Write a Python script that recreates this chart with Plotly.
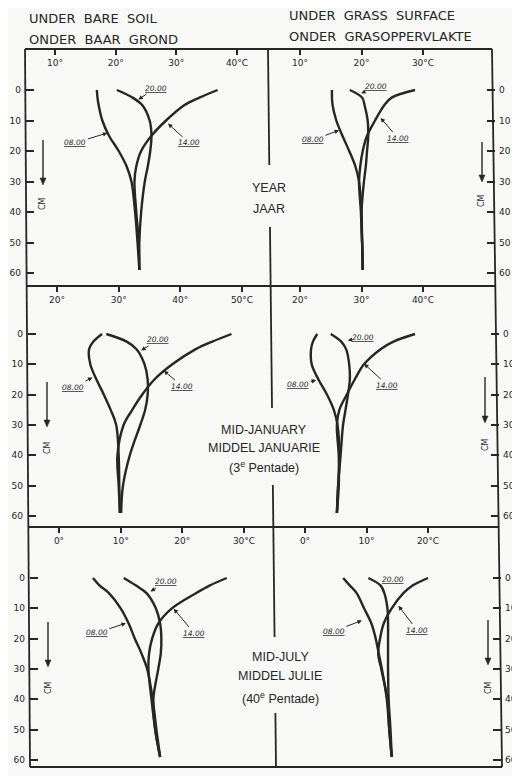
import plotly.graph_objects as go

# page body has an 8px margin, so the figure is 8px smaller than the window
OFF = 8
W, H = 520 - OFF, 776 - OFF

# depth below surface (cm) at which temperatures were read
DEPTH = [0, 2.5, 5, 10, 15, 20, 25, 30, 40, 50, 59]
DEPTH_TICKS = [0, 10, 20, 30, 40, 50, 60]
TIMES = ["08.00", "14.00", "20.00"]

# soil temperature (deg C) - year, bare soil
YEAR_BARE_08 = [16.9, 17.0, 17.2, 17.8, 18.9, 20.5, 21.8, 22.6, 23.2, 23.6, 23.9]
YEAR_BARE_14 = [36.8, 33.8, 31.3, 28.3, 25.9, 24.2, 23.4, 23.1, 23.4, 23.8, 23.9]
YEAR_BARE_20 = [20.2, 22.8, 24.4, 25.6, 25.9, 25.7, 25.3, 24.8, 24.2, 23.9, 23.9]
# year, grass surface
YEAR_GRASS_08 = [15.2, 15.2, 15.3, 15.9, 16.9, 18.0, 19.0, 19.6, 20.0, 20.1, 20.2]
YEAR_GRASS_14 = [28.7, 24.9, 23.7, 22.2, 20.9, 20.2, 19.8, 19.6, 19.9, 20.1, 20.2]
YEAR_GRASS_20 = [18.1, 20.1, 20.5, 21.0, 21.1, 20.9, 20.7, 20.4, 20.0, 20.1, 20.2]
# mid-January, bare soil
JAN_BARE_08 = [27.3, 25.9, 25.2, 25.4, 26.4, 27.6, 28.7, 29.6, 30.0, 30.1, 30.2]
JAN_BARE_14 = [48.3, 45.2, 42.5, 38.7, 35.8, 33.8, 32.2, 30.8, 29.8, 30.0, 30.2]
JAN_BARE_20 = [28.0, 31.3, 32.9, 34.2, 34.7, 34.7, 34.3, 33.5, 31.8, 30.7, 30.4]
# mid-January, grass surface
JAN_GRASS_08 = [22.8, 22.1, 21.8, 21.9, 23.0, 24.4, 25.5, 26.1, 26.4, 26.2, 26.0]
JAN_GRASS_14 = [38.7, 35.2, 33.1, 30.4, 28.9, 27.6, 26.4, 26.0, 26.3, 26.3, 26.0]
JAN_GRASS_20 = [25.0, 26.7, 27.5, 28.0, 28.1, 27.8, 27.4, 27.0, 26.6, 26.2, 26.0]
# mid-July, bare soil
JUL_BARE_08 = [5.5, 6.6, 8.1, 10.0, 11.3, 12.3, 13.4, 14.3, 15.2, 15.8, 16.4]
JUL_BARE_14 = [27.2, 24.4, 22.2, 18.3, 16.1, 15.1, 14.6, 14.5, 15.0, 15.6, 16.4]
JUL_BARE_20 = [10.5, 12.5, 14.2, 15.7, 16.4, 16.6, 16.5, 16.1, 15.3, 15.6, 16.4]
# mid-July, grass surface
JUL_GRASS_08 = [6.2, 7.3, 8.4, 9.6, 10.8, 11.5, 12.0, 12.5, 13.3, 13.7, 14.1]
JUL_GRASS_14 = [20.0, 17.5, 16.0, 14.1, 12.8, 12.2, 11.9, 12.4, 13.4, 13.7, 14.1]
JUL_GRASS_20 = [10.3, 12.3, 12.9, 13.4, 13.5, 13.5, 13.5, 13.5, 13.6, 13.9, 14.1]

# temperature tick labels
YEAR_BARE_TICKS = [10, 20, 30, 40]
YEAR_BARE_TEXT = ["10°", "20°", "30°", "40°C"]
YEAR_GRASS_TICKS = [10, 20, 30]
YEAR_GRASS_TEXT = ["10°", "20°", "30°C"]
JAN_BARE_TICKS = [20, 30, 40, 50]
JAN_BARE_TEXT = ["20°", "30°", "40°", "50°C"]
JAN_GRASS_TICKS = [20, 30, 40]
JAN_GRASS_TEXT = ["20°", "30°", "40°C"]
JUL_BARE_TICKS = [0, 10, 20, 30]
JUL_BARE_TEXT = ["0°", "10°", "20°", "30°C"]
JUL_GRASS_TICKS = [0, 10, 20]
JUL_GRASS_TEXT = ["0°", "10°", "20°C"]

HEADERS = ["UNDER  BARE  SOIL", "ONDER  BAAR  GROND",
           "UNDER  GRASS  SURFACE", "ONDER  GRASOPPERVLAKTE"]
ROW_TITLES = [["YEAR", "JAAR"],
              ["MID-JANUARY", "MIDDEL JANUARIE", "(3<sup>e</sup> Pentade)"],
              ["MID-JULY", "MIDDEL JULIE", "(40<sup>e</sup> Pentade)"]]

INK = "#262626"
BG = "#f8f8f6"

# ---- layout in window pixels (scan is slightly skewed) ----
# rows: top, bottom, left edge, divider, right edge
ROWS = [(49, 286, 26, 269, 495), (286, 527, 28, 272, 499), (527, 767, 30, 275, 501)]
# pixel of depth 0 and depth 60 in each row
ROW_Y = [(90, 273), (334, 516), (578, 760)]

panels = [
    dict(row=0, col=0, curves=(YEAR_BARE_08, YEAR_BARE_14, YEAR_BARE_20),
         ticks=YEAR_BARE_TICKS, text=YEAR_BARE_TEXT, cal=((10, 55), (40, 237)),
         labels=[("08.00", 18.8, 14, -33, 10), ("20.00", 23.6, 3.3, 18, -12), ("14.00", 28.5, 10.8, 22, 20)]),
    dict(row=0, col=1, curves=(YEAR_GRASS_08, YEAR_GRASS_14, YEAR_GRASS_20),
         ticks=YEAR_GRASS_TICKS, text=YEAR_GRASS_TEXT, cal=((10, 300), (30, 423)),
         labels=[("08.00", 16.5, 13.1, -27, 10), ("20.00", 19.8, 1.2, 16, -7), ("14.00", 23.0, 8.9, 18, 21)]),
    dict(row=1, col=0, curves=(JAN_BARE_08, JAN_BARE_14, JAN_BARE_20),
         ticks=JAN_BARE_TICKS, text=JAN_BARE_TEXT, cal=((20, 57), (50, 242)),
         labels=[("08.00", 25.9, 14.2, -20, 10), ("20.00", 33.5, 5.6, 18, -11), ("14.00", 37.2, 11.9, 19, 16)]),
    dict(row=1, col=1, curves=(JAN_GRASS_08, JAN_GRASS_14, JAN_GRASS_20),
         ticks=JAN_GRASS_TICKS, text=JAN_GRASS_TEXT, cal=((20, 300), (40, 423)),
         labels=[("08.00", 22.8, 15.2, -19, 4), ("20.00", 27.6, 2.2, 16, -3), ("14.00", 30.3, 9.6, 24, 22)]),
    dict(row=2, col=0, curves=(JUL_BARE_08, JUL_BARE_14, JUL_BARE_20),
         ticks=JUL_BARE_TICKS, text=JUL_BARE_TEXT, cal=((0, 59), (30, 244)),
         labels=[("08.00", 11.0, 14.8, -30, 10), ("20.00", 14.7, 4.6, 16, -10), ("14.00", 18.5, 9.9, 21, 25)]),
    dict(row=2, col=1, curves=(JUL_GRASS_08, JUL_GRASS_14, JUL_GRASS_20),
         ticks=JUL_GRASS_TICKS, text=JUL_GRASS_TEXT, cal=((0, 305), (20, 428)),
         labels=[("08.00", 9.4, 13.9, -29, 11), ("20.00", 12.2, 2.9, 13, -7), ("14.00", 15.1, 8.9, 19, 25)]),
]


def px(x):
  return (x - OFF) / W


def py(y):
  return 1 - (y - OFF) / H


fig = go.Figure()
layout = {}
annotations = []

for i, p in enumerate(panels, start=1):
  top, bottom, left, mid, right = ROWS[p["row"]]
  x0, x1 = (left, mid) if p["col"] == 0 else (mid, right)
  (t1, p1), (t2, p2) = p["cal"]
  s = (t2 - t1) / (p2 - p1)
  xr = [t1 + (x0 - p1) * s, t1 + (x1 - p1) * s]
  d0, d60 = ROW_Y[p["row"]]
  sy = 60 / (d60 - d0)
  yr = [(bottom - d0) * sy, (top - d0) * sy]
  sfx = "" if i == 1 else str(i)

  for t, temps in zip(TIMES, p["curves"]):
    fig.add_trace(go.Scatter(
      x=temps, y=DEPTH, mode="lines", name=t, showlegend=False,
      line=dict(color=INK, width=2.4, shape="spline", smoothing=1.0),
      xaxis="x" + sfx, yaxis="y" + sfx, hoverinfo="skip"))

  layout["xaxis" + sfx] = dict(
    domain=[px(x0), px(x1)], anchor="y" + sfx, side="top", range=xr,
    tickvals=p["ticks"], ticktext=p["text"], ticks="inside", ticklen=6,
    tickwidth=1.5, tickcolor=INK, ticklabelposition="inside",
    ticklabelstandoff=4,
    tickfont=dict(family="DejaVu Sans", size=9, color=INK),
    showgrid=False, zeroline=False, showline=False, fixedrange=True)
  layout["yaxis" + sfx] = dict(
    domain=[py(bottom), py(top)], anchor="x" + sfx,
    side="left" if p["col"] == 0 else "right", range=yr,
    tickvals=DEPTH_TICKS, ticks="inside", ticklen=8, tickwidth=1.5,
    tickcolor=INK, ticklabelstandoff=4 if p["col"] == 0 else 3,
    tickfont=dict(family="DejaVu Sans", size=9, color=INK),
    showgrid=False, zeroline=False, showline=False, fixedrange=True)

  for t, hx, hy, ax, ay in p["labels"]:
    annotations.append(dict(
      x=hx, y=hy, xref="x" + sfx, yref="y" + sfx, ax=ax, ay=ay,
      text="<i><u>" + t + "</u></i>", showarrow=True, arrowhead=2,
      arrowsize=0.9, arrowwidth=1, arrowcolor=INK, standoff=1,
      font=dict(family="DejaVu Sans", size=7.5, color=INK)))


# frame of the scanned figure (slightly rotated)
def edge_x(xa, xb, y):
  return xa + (xb - xa) * (y - 49) / (767 - 49)


line = dict(color=INK, width=1.8)
shapes = []
shapes.append(dict(type="line", xref="paper", yref="paper",
                   x0=px(25), y0=py(49), x1=px(30), y1=py(767), line=line))
shapes.append(dict(type="line", xref="paper", yref="paper",
                   x0=px(492), y0=py(49), x1=px(502), y1=py(767), line=line))
for y in (49, 286, 527, 767):
  shapes.append(dict(type="line", xref="paper", yref="paper",
                     x0=px(edge_x(25, 30, y)), y0=py(y),
                     x1=px(edge_x(492, 502, y)), y1=py(y),
                     line=dict(color=INK, width=2.2)))
# divider broken around the centre titles
segments = [(49, 165), (227, 286), (286, 408), (485, 527), (527, 637), (713, 767)]
for ya, yb in segments:
  shapes.append(dict(type="line", xref="paper", yref="paper",
                     x0=px(edge_x(268, 276, ya)), y0=py(ya),
                     x1=px(edge_x(268, 276, yb)), y1=py(yb), line=line))

# depth arrows (shaft + filled head) beside each depth scale
cm_marks = [(43, 140, 185, 204), (482, 142, 182, 201), (47, 382, 427, 448),
            (485, 377, 423, 445), (48, 622, 667, 688), (488, 620, 665, 688)]
for x, y0, y1, ylab in cm_marks:
  shapes.append(dict(type="line", xref="paper", yref="paper",
                     x0=px(x), y0=py(y0), x1=px(x), y1=py(y1 - 5),
                     line=dict(color=INK, width=1.4)))
  shapes.append(dict(type="path", xref="paper", yref="paper",
                     path="M {:.5f},{:.5f} L {:.5f},{:.5f} L {:.5f},{:.5f} Z".format(
                       px(x - 3), py(y1 - 7), px(x + 3), py(y1 - 7), px(x), py(y1)),
                     fillcolor=INK, line=dict(color=INK, width=0.5)))
  annotations.append(dict(x=px(x), y=py(ylab), xref="paper", yref="paper",
                          text="CM", textangle=-90, showarrow=False,
                          xanchor="center", yanchor="middle",
                          font=dict(family="DejaVu Sans", size=8, color=INK)))

# centre titles
title_pos = [(269, [188, 209]), (264, [430, 448, 467]), (280, [657, 676, 698])]
for lines, (cx, ys) in zip(ROW_TITLES, title_pos):
  for txt, y in zip(lines, ys):
    annotations.append(dict(x=px(cx), y=py(y), xref="paper", yref="paper",
                            text=txt, showarrow=False,
                            xanchor="center", yanchor="middle",
                            font=dict(family="Liberation Sans", size=12.5, color=INK)))

# headers
for txt, x, y in zip(HEADERS, [27, 27, 287, 287], [18, 40, 16, 36]):
  annotations.append(dict(x=px(x), y=py(y), xref="paper", yref="paper",
                          text=txt.replace(" ", "\u00a0"), showarrow=False,
                          xanchor="left", yanchor="middle",
                          font=dict(family="DejaVu Sans", size=13, color=INK)))

fig.update_layout(
  width=W, height=H, autosize=False,
  margin=dict(l=0, r=0, t=0, b=0),
  paper_bgcolor=BG, plot_bgcolor=BG,
  showlegend=False,
  shapes=shapes, annotations=annotations,
  **layout
)

fig.write_html("out.html")
